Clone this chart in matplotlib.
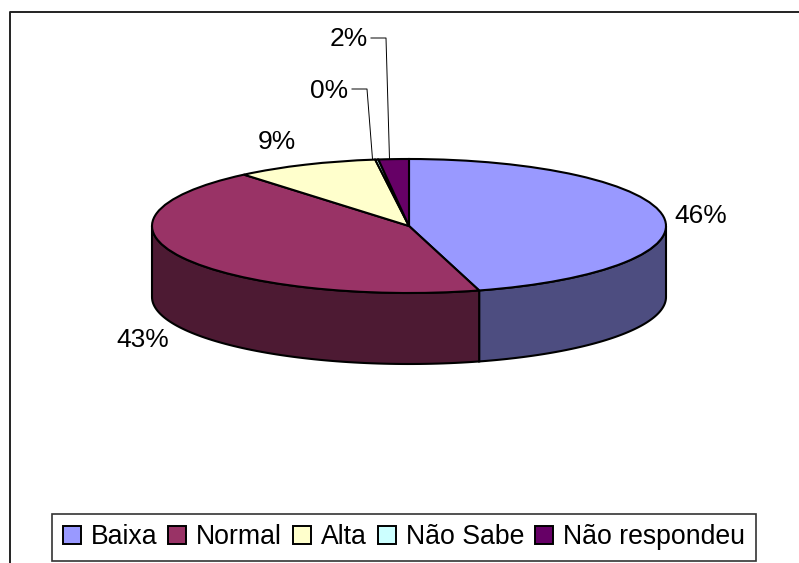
import numpy as np
import matplotlib.pyplot as plt
from matplotlib.patches import Patch

categories = ["Baixa", "Normal", "Alta", "Não Sabe", "Não respondeu"]
values = [45.6, 43.3, 9.0, 0.2, 1.9]
colors = ["#9999FF", "#993366", "#FFFFCC", "#CCFFFF", "#660066"]
wall_colors = ["#4D4D80", "#4D1A33", "#808066", "#668080", "#330033"]
pct_labels = ["46%", "43%", "9%", "0%", "2%"]

W, H = 799, 563
CX, CY, RX, RY, DEPTH = 409, 226, 257, 67, 71

plt.rcParams["font.family"] = ["Liberation Sans", "DejaVu Sans"]
fig = plt.figure(figsize=(W / 100, H / 100), dpi=100, facecolor="white")

# frame of the chart, in pixels (open on the right, cut off at the bottom)
bg = fig.add_axes([0, 0, 1, 1])
bg.set_xlim(0, W)
bg.set_ylim(H, 0)
bg.axis("off")
bg.plot([10, 10, W], [H, 12, 12], color="#222222", lw=1.4)

# the pie axes is stretched so that the unit circle lands on the ellipse
extra = DEPTH / RY
ax = fig.add_axes([(CX - RX) / W, 1 - (CY + RY + DEPTH) / H, 2 * RX / W, (2 * RY + DEPTH) / H])
ax.pie(values, colors=colors, startangle=90, counterclock=False,
       wedgeprops={"edgecolor": "black", "linewidth": 1.5}, radius=1, center=(0, 0))
ax.set_aspect("auto")
ax.set_xlim(-1, 1)
ax.set_ylim(-1 - extra, 1)
ax.patch.set_alpha(0)

# side wall, only the front half of the rim shows
edges = 90 - np.cumsum([0] + values) * 3.6
for i in range(len(values)):
    lo = max(edges[i + 1], -180)
    hi = min(edges[i], 0)
    if lo >= hi:
        continue
    t = np.radians(np.linspace(hi, lo, 80))
    xs = np.cos(t)
    ys = np.sin(t)
    ax.fill(np.r_[xs, xs[::-1]], np.r_[ys, ys[::-1] - extra],
            facecolor=wall_colors[i], edgecolor="black", lw=1.5, zorder=0)
for patch in ax.patches + ax.collections:
    patch.set_clip_on(False)

# percentage labels
label_pos = [(701, 216), (143, 340), (277, 142), (329.5, 91), (348.5, 39)]
for lab, (x, y) in zip(pct_labels, label_pos):
    bg.text(x, y, lab, fontsize=19, ha="center", va="center", color="black")

# leader lines
bg.plot([352, 367, 372.5], [89, 89, 159], color="black", lw=0.7)
bg.plot([371, 386, 389.5], [38, 38, 159], color="black", lw=0.7)
bg.set_zorder(2)

# legend
handles = [Patch(facecolor=c, edgecolor="black", lw=1.4) for c in colors]
leg = fig.legend(handles, categories, loc="lower left", bbox_to_anchor=(52 / W, 1 - 561 / H),
                 ncol=5, fontsize=19.2, frameon=True, fancybox=False, edgecolor="#333333",
                 framealpha=1, handlelength=0.68, handleheight=0.68, handletextpad=0.36,
                 columnspacing=0.42, borderpad=0.4, borderaxespad=0)
leg.get_frame().set_linewidth(1.2)

fig.savefig("out.png", dpi=100)
